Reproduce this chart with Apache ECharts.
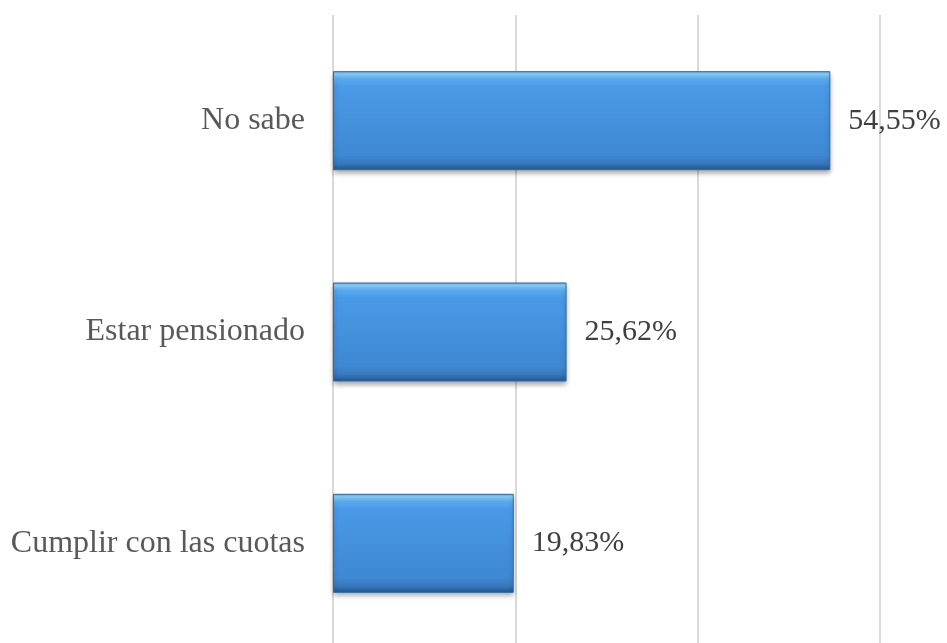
<!DOCTYPE html>
<html>
<head>
<meta charset="utf-8">
<script src="https://cdn.jsdelivr.net/npm/echarts@6/dist/echarts.min.js"></script>
<style>
  html, body { margin: 0; padding: 0; background: #fff; overflow: hidden; }
  #main { width: 947px; height: 643px; }
</style>
</head>
<body>
<div id="main"></div>
<script>
var categorias = ['No sabe', 'Estar pensionado', 'Cumplir con las cuotas'];
var valores = [54.55, 25.62, 19.83];
var ejeMax = 60;
var ejePaso = 20;

var dom = document.getElementById('main');
var myChart = echarts.init(dom);

// relleno del bar con efecto biselado
var relleno = new echarts.graphic.LinearGradient(0, 0, 0, 1, [
  { offset: 0, color: '#5fa9e6' },
  { offset: 0.03, color: '#8fd3fa' },
  { offset: 0.08, color: '#5aaaf0' },
  { offset: 0.15, color: '#4a9ae8' },
  { offset: 0.85, color: '#3f88d2' },
  { offset: 0.93, color: '#3878bd' },
  { offset: 1, color: '#24558c' }
]);

var option = {
  animation: false,
  grid: {
    left: 333,
    right: 67,
    top: 15,
    height: 634,
    outerBoundsMode: 'none'
  },
  xAxis: {
    type: 'value',
    min: 0,
    max: ejeMax,
    interval: ejePaso,
    axisLabel: { show: false },
    axisLine: { show: false },
    axisTick: { show: false },
    splitLine: { lineStyle: { color: '#d9d9d9', width: 2 } }
  },
  yAxis: {
    type: 'category',
    inverse: true,
    data: categorias,
    axisLine: { show: false },
    axisTick: { show: false },
    axisLabel: {
      margin: 28,
      color: '#595959',
      fontFamily: 'Liberation Serif',
      fontSize: 32
    }
  },
  series: [{
    type: 'bar',
    data: valores,
    barWidth: 99,
    itemStyle: {
      color: relleno,
      borderColor: '#2f6aa6',
      borderWidth: 1,
      shadowColor: 'rgba(0,0,0,0.35)',
      shadowBlur: 5,
      shadowOffsetY: 3
    },
    label: {
      show: true,
      position: 'right',
      distance: 18,
      color: '#404040',
      fontFamily: 'Liberation Serif',
      fontSize: 30,
      formatter: function (p) {
        return p.value.toFixed(2).replace('.', ',') + '%';
      }
    }
  }]
};

myChart.setOption(option);
</script>
</body>
</html>
